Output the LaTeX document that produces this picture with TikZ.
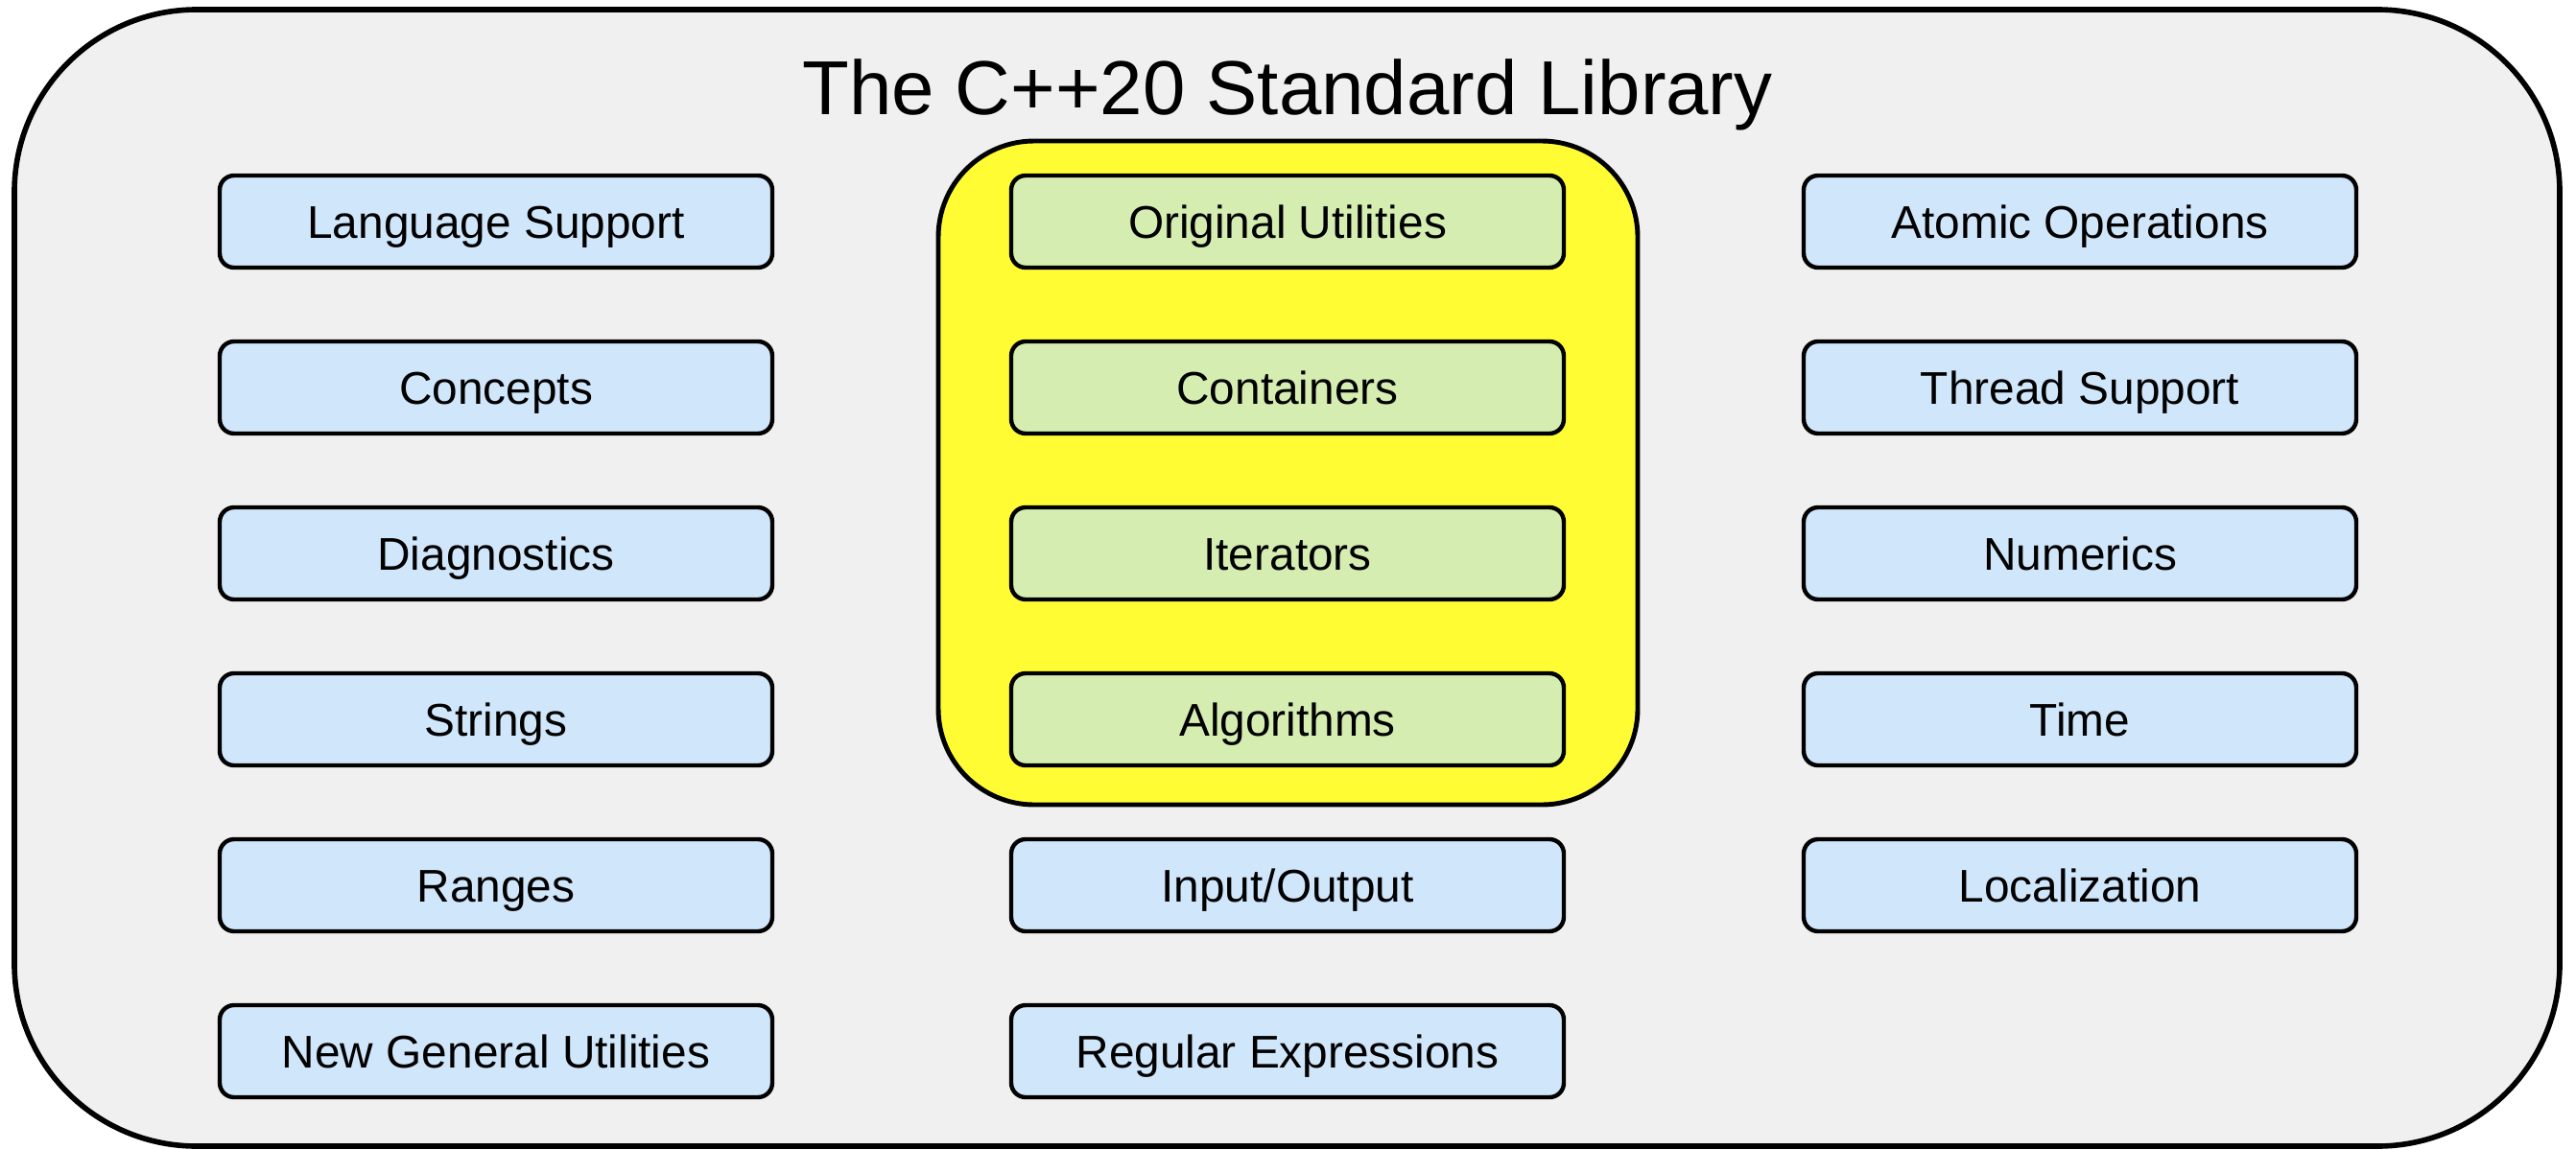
\documentclass[tikz,border=0pt]{standalone}
\usepackage{fontspec}
\setmainfont{Liberation Sans}
\usepackage{tikz}
\usetikzlibrary{positioning}
\definecolor{libgrey}{HTML}{F0F0F0}
\definecolor{libblue}{HTML}{D0E6FA}
\definecolor{libgreen}{HTML}{D5EDB0}
\definecolor{libyellow}{HTML}{FFFC33}
\tikzset{
  partbox/.style={draw, line width=1.25pt, rounded corners=0.15cm,
    minimum width=5.76cm, minimum height=0.96cm, inner sep=0pt,
    text height=9.74pt, text depth=0pt,
    font=\fontsize{13.6}{16}\selectfont},
  libpart/.style={partbox, fill=libblue},
  stlpart/.style={partbox, fill=libgreen},
}

\begin{document}
\begin{tikzpicture}
              \useasboundingbox (0,0) rectangle (26.85,-11.98);
              % Frame and title
              \draw[line width=1.6pt, fill=libgrey, rounded corners=1.9cm]
                (0.15,-0.10) rectangle (26.68,-11.95);
              \node[font=\fontsize{22.7}{27}\selectfont, text height=16.25pt, text depth=0pt]
                (title) at (13.42,-0.91) {The C++20 Standard Library};
              % STL group
              \draw[line width=1.4pt, fill=libyellow, rounded corners=1.0cm]
                (9.78,-1.47) rectangle (17.07,-8.39);

              % Left column
              \node[libpart] (lang) at (5.17,-2.31) {Language Support};
              \node[libpart] (concepts) at (5.17,-4.04) {Concepts};
              \node[libpart] (diag) at (5.17,-5.77) {Diagnostics};
              \node[libpart] (strings) at (5.17,-7.50) {Strings};
              \node[libpart] (ranges) at (5.17,-9.23) {Ranges};
              \node[libpart] (newutil) at (5.17,-10.96) {New General Utilities};

              % Middle column
              \node[stlpart] (origutil) at (13.42,-2.31) {Original Utilities};
              \node[stlpart] (containers) at (13.42,-4.04) {Containers};
              \node[stlpart] (iterators) at (13.42,-5.77) {Iterators};
              \node[stlpart] (algorithms) at (13.42,-7.50) {Algorithms};
              \node[libpart] (io) at (13.42,-9.23) {Input/Output};
              \node[libpart] (regex) at (13.42,-10.96) {Regular Expressions};

              % Right column
              \node[libpart] (atomic) at (21.68,-2.31) {Atomic Operations};
              \node[libpart] (thread) at (21.68,-4.04) {Thread Support};
              \node[libpart] (numerics) at (21.68,-5.77) {Numerics};
              \node[libpart] (time) at (21.68,-7.50) {Time};
              \node[libpart] (locale) at (21.68,-9.23) {Localization};
            \end{tikzpicture}
\end{document}
